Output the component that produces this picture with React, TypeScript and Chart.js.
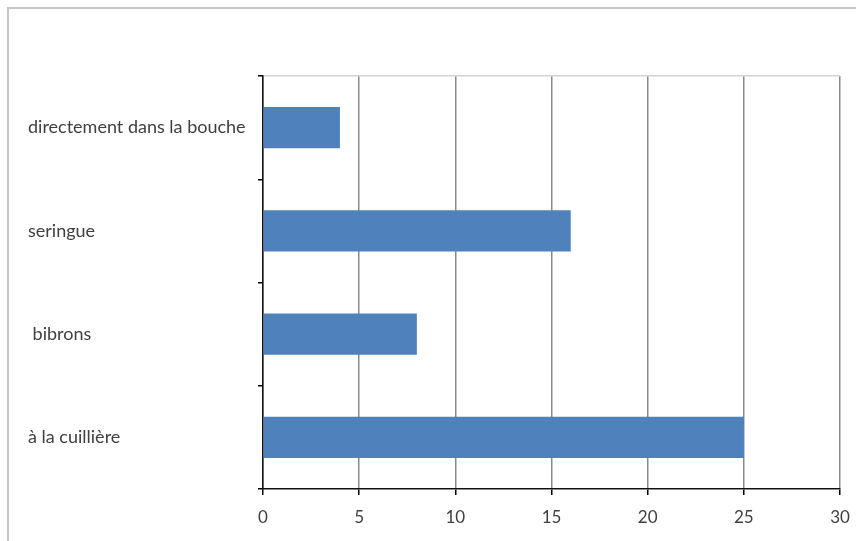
import React, { useEffect, useRef } from "react";
import { Chart, registerables } from "chart.js";

Chart.register(...registerables);

// Feeding methods and their counts
const categories = [
  "directement dans la bouche",
  "seringue",
  " bibrons",
  "à la cuillière",
];
const counts = [4, 16, 8, 25];

// Value axis range
const axisMin = 0;
const axisMax = 30;
const axisStep = 5;

const WIDTH = 856;
const HEIGHT = 541;
const FONT = "Lato, 'Open Sans', sans-serif";
const TEXT_COLOR = "#404040";

export default function App() {
  const canvasRef = useRef<HTMLCanvasElement | null>(null);

  useEffect(() => {
    const canvas = canvasRef.current;
    if (!canvas) return;
    const chart = new Chart(canvas, {
      type: "bar",
      data: {
        labels: categories,
        datasets: [
          {
            data: counts,
            backgroundColor: "#4F81BD",
            borderWidth: 0,
            barPercentage: 0.4,
            categoryPercentage: 1,
          },
        ],
      },
      options: {
        indexAxis: "y",
        responsive: false,
        animation: false,
        devicePixelRatio: 1,
        layout: { padding: { left: 28, top: 76, right: 16, bottom: 0 } },
        plugins: {
          legend: { display: false },
          tooltip: { enabled: false },
        },
        scales: {
          x: {
            min: axisMin,
            max: axisMax,
            afterFit: (scale: any) => {
              scale.height = 52;
              scale.paddingRight = 0;
              scale.paddingLeft = 0;
            },
            ticks: {
              stepSize: axisStep,
              color: TEXT_COLOR,
              font: { family: FONT, size: 17 },
              padding: 12,
            },
            grid: {
              color: "#8a8a8a",
              lineWidth: 1.5,
              tickColor: "#000",
              tickLength: 6,
              drawOnChartArea: true,
            },
            border: { display: true, color: "#111", width: 1.5 },
          },
          y: {
            afterFit: (scale: any) => {
              scale.width = 235;
            },
            ticks: {
              color: TEXT_COLOR,
              crossAlign: "far",
              font: { family: FONT, size: 18 },
            },
            grid: {
              offset: true,
              drawOnChartArea: true,
              color: (ctx: any) => (ctx.index === 0 ? "#d4d4d4" : "rgba(0,0,0,0)"),
              lineWidth: 1.5,
              tickColor: "#000",
              tickLength: 5,
            },
            border: { display: true, color: "#111", width: 1.5 },
          },
        },
      },
    });
    return () => chart.destroy();
  }, []);

  return (
    <div
      style={{
        position: "fixed",
        left: 0,
        top: 0,
        width: WIDTH,
        height: HEIGHT,
        background: "#fff",
        overflow: "hidden",
      }}
    >
      <div
        style={{
          position: "absolute",
          left: 7,
          top: 7,
          width: WIDTH,
          height: HEIGHT,
          borderTop: "2px solid #c6c6c6",
          borderLeft: "2px solid #c6c6c6",
        }}
      />
      <canvas
        ref={canvasRef}
        width={WIDTH}
        height={HEIGHT}
        style={{ position: "absolute", left: 0, top: 0, width: WIDTH, height: HEIGHT }}
      />
    </div>
  );
}
